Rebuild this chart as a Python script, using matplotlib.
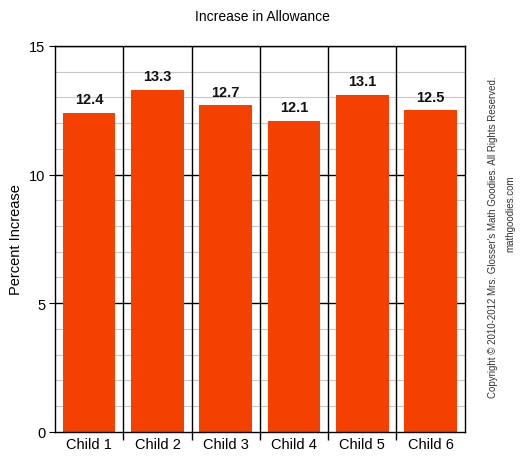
import matplotlib.pyplot as plt
import numpy as np

plt.rcParams['font.family'] = ['Liberation Sans', 'DejaVu Sans']

children = ["Child 1", "Child 2", "Child 3", "Child 4", "Child 5", "Child 6"]
increase = [12.4, 13.3, 12.7, 12.1, 13.1, 12.5]
y_ticks = [0, 5, 10, 15]

fig = plt.figure(figsize=(5.24, 4.6), dpi=100)
ax = fig.add_axes([0.105, 0.059, 0.782, 0.839])

x = np.arange(len(children))
ax.set_xlim(-0.5, len(children) - 0.5)
ax.set_ylim(0, 15)

# light minor grid + black major lines
for v in range(1, 15):
    if v % 5:
        ax.axhline(v, color="#c8c8c8", lw=0.8, zorder=0)
for v in y_ticks[1:]:
    ax.axhline(v, color="black", lw=1.0, zorder=0)
bounds = np.arange(0.5, len(children) - 0.5, 1)
for b in bounds:
    ax.axvline(b, color="black", lw=1.0, zorder=0)

ax.bar(x, increase, width=0.77, color="#f54100", zorder=2)
for xi, v in zip(x, increase):
    ax.text(xi, v + 0.25, f"{v}", ha="center", va="bottom",
            fontsize=10.5, fontweight="bold", color="#111111")

ax.set_xticks(x)
ax.set_xticklabels(children, fontsize=10.5)
ax.set_xticks(bounds, minor=True)
ax.tick_params(axis="x", which="major", length=0, pad=4)
ax.tick_params(axis="x", which="minor", length=6, width=1.0, color="black")
ax.set_yticks(y_ticks)
ax.set_yticklabels([str(t) for t in y_ticks], fontsize=10.5)
ax.tick_params(axis="y", length=4, pad=3)
ax.set_ylabel("Percent Increase", fontsize=10.5)
for s in ax.spines.values():
    s.set_color("black")
    s.set_linewidth(1.0)

fig.text(0.5, 0.962, "Increase in Allowance", ha="center", va="center", fontsize=10)
fig.text(0.941, 0.485, "Copyright \u00a9 2010-2012 Mrs. Glosser's Math Goodies. All Rights Reserved.",
         rotation=90, ha="center", va="center", fontsize=7, color="#333333")
fig.text(0.974, 0.535, "mathgoodies.com", rotation=90, ha="center", va="center",
         fontsize=7, color="#333333")

fig.savefig("out.png", dpi=100)
